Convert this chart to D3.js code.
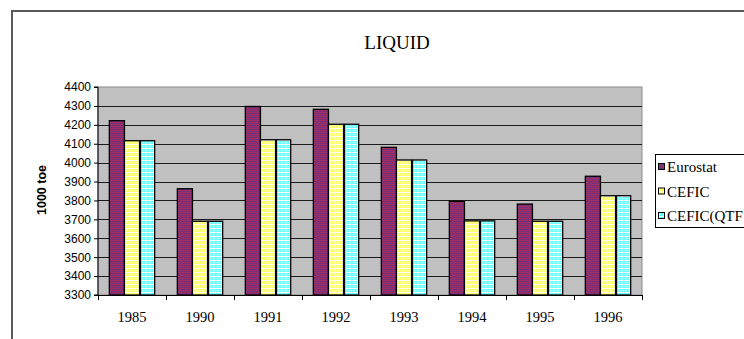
<!DOCTYPE html>
<html>
<head>
<meta charset="utf-8">
<script src="https://cdn.jsdelivr.net/npm/d3@7"></script>
<style>
  html, body { margin: 0; padding: 0; background: #fff; }
  svg { display: block; }
  .serif { font-family: "Liberation Serif", "DejaVu Serif", serif; }
  .sans { font-family: "Liberation Sans", "DejaVu Sans", sans-serif; }
</style>
</head>
<body>
<svg id="chart" width="744" height="339"></svg>
<script>
// Liquid fuel consumption, 1000 toe
const years = ["1985", "1990", "1991", "1992", "1993", "1994", "1995", "1996"];
const seriesNames = ["Eurostat", "CEFIC", "CEFIC(QTF"];
const eurostat = [4222, 3862, 4297, 4282, 4081, 3795, 3781, 3928];
const cefic    = [4116, 3690, 4121, 4203, 4014, 3692, 3690, 3825];
const ceficQtf = [4116, 3690, 4121, 4203, 4014, 3692, 3690, 3825];
const yTicks = [3300, 3400, 3500, 3600, 3700, 3800, 3900, 4000, 4100, 4200, 4300, 4400];

const seriesValues = [eurostat, cefic, ceficQtf];
const patternIds = ["pat-eurostat", "pat-cefic", "pat-qtf"];

const svg = d3.select("#chart");
const defs = svg.append("defs");

// Dithered fills for the three series
function makePattern(id, base, dots) {
  const p = defs.append("pattern")
    .attr("id", id).attr("patternUnits", "userSpaceOnUse")
    .attr("width", 4).attr("height", 4);
  p.append("rect").attr("width", 4).attr("height", 4).attr("fill", base);
  dots.forEach(([x, y, c]) => p.append("rect")
    .attr("x", x).attr("y", y).attr("width", 1).attr("height", 1).attr("fill", c));
}
makePattern("pat-eurostat", "#8e2a62", [
  [0, 0, "#e0203a"], [2, 2, "#e0203a"], [1, 3, "#5040a8"], [3, 1, "#5040a8"],
  [2, 0, "#b03070"], [0, 2, "#b03070"], [1, 1, "#6a2a6a"]
]);
makePattern("pat-cefic", "#ffff55", [
  [0, 0, "#ffffff"], [1, 0, "#ffffff"], [2, 0, "#ffffff"], [3, 0, "#ffffff"],
  [0, 1, "#ffffff"], [0, 2, "#ffffff"], [0, 3, "#ffffff"], [2, 2, "#ffffcc"]
]);
makePattern("pat-qtf", "#55ffff", [
  [0, 0, "#ffffff"], [1, 0, "#ffffff"], [2, 0, "#ffffff"], [3, 0, "#ffffff"],
  [0, 1, "#ffffff"], [0, 2, "#ffffff"], [0, 3, "#ffffff"], [2, 2, "#ccffff"]
]);

// Outer chart frame
svg.append("rect")
  .attr("x", 12).attr("y", 11).attr("width", 900).attr("height", 500)
  .attr("fill", "#fff").attr("stroke", "#5a5a5a").attr("stroke-width", 2);

const plot = { left: 98, right: 642, top: 87, bottom: 295 };

const x0 = d3.scaleBand().domain(years).range([plot.left, plot.right]).padding(0);
const y = d3.scaleLinear().domain([3300, 4400]).range([plot.bottom, plot.top]);

// Plot area background
svg.append("rect")
  .attr("x", plot.left).attr("y", plot.top)
  .attr("width", plot.right - plot.left).attr("height", plot.bottom - plot.top)
  .attr("fill", "#c0c0c0").attr("stroke", "#8a8a8a").attr("stroke-width", 1);

// Horizontal gridlines
svg.append("g").selectAll("line")
  .data(yTicks.filter(v => v > 3300 && v < 4400))
  .join("line")
  .attr("x1", plot.left).attr("x2", plot.right)
  .attr("y1", d => Math.round(y(d)) + 0.5).attr("y2", d => Math.round(y(d)) + 0.5)
  .attr("stroke", "#1a1a1a").attr("stroke-width", 1);

// Bars
const groupW = x0.bandwidth();
const barW = groupW / 4.5;
const x1 = d3.scaleBand().domain(d3.range(3)).range([0, barW * 3]);

const groups = svg.append("g").selectAll("g")
  .data(years)
  .join("g")
  .attr("transform", d => `translate(${x0(d) + (groupW - barW * 3) / 2},0)`);

groups.selectAll("rect")
  .data((d, i) => seriesValues.map((s, k) => ({ k, v: s[i] })))
  .join("rect")
  .attr("x", d => x1(d.k) + (d.k === 2 ? 1 : 0))
  .attr("y", d => y(d.v))
  .attr("width", d => barW - (d.k === 2 ? 1 : 0))
  .attr("height", d => y(3300) - y(d.v))
  .attr("fill", d => `url(#${patternIds[d.k]})`)
  .attr("stroke", "#000").attr("stroke-width", 1.3);

// Y axis
const yAxis = d3.axisLeft(y).tickValues(yTicks).tickSize(4).tickPadding(3).tickFormat(d3.format("d"));
const gy = svg.append("g").attr("transform", `translate(${plot.left},0)`).call(yAxis);
gy.attr("font-family", null).attr("font-size", null);
gy.select(".domain").attr("stroke", "#000").attr("d", `M-4,${plot.top}H0V${plot.bottom}H-4`);
gy.selectAll(".tick line").attr("stroke", "#000");
gy.selectAll("text").attr("class", "sans")
  .attr("font-size", 12).attr("fill", "#000");

// X axis
const xAxis = d3.axisBottom(x0).tickSize(0).tickPadding(0);
const gx = svg.append("g").attr("transform", `translate(0,${plot.bottom})`).call(xAxis);
gx.attr("font-family", null).attr("font-size", null);
gx.select(".domain").remove();
gx.selectAll("text").attr("class", "serif")
  .attr("font-size", 14.5).attr("fill", "#000").attr("y", 27).attr("dy", null);
svg.append("line").attr("x1", plot.left).attr("x2", plot.right)
  .attr("y1", plot.bottom + 0.5).attr("y2", plot.bottom + 0.5).attr("stroke", "#000");
// Category separator ticks
svg.append("g").selectAll("line")
  .data(d3.range(years.length + 1))
  .join("line")
  .attr("x1", i => Math.round(plot.left + i * groupW) + 0.5)
  .attr("x2", i => Math.round(plot.left + i * groupW) + 0.5)
  .attr("y1", plot.bottom).attr("y2", plot.bottom + 5)
  .attr("stroke", "#000");

// Title
svg.append("text")
  .attr("class", "serif")
  .attr("x", 397).attr("y", 49).attr("text-anchor", "middle")
  .attr("font-size", 19).attr("fill", "#000")
  .text("LIQUID");

// Y axis title
svg.append("text")
  .attr("class", "sans")
  .attr("transform", "translate(46,190) rotate(-90)")
  .attr("text-anchor", "middle")
  .attr("font-weight", "bold").attr("font-size", 12.5).attr("fill", "#000")
  .text("1000 toe");

// Legend
const legend = svg.append("g").attr("transform", "translate(655,154)");
legend.append("rect")
  .attr("x", 0.5).attr("y", 0.5).attr("width", 200).attr("height", 73)
  .attr("fill", "#fff").attr("stroke", "#000").attr("stroke-width", 1);
const items = legend.selectAll("g.item")
  .data(seriesNames)
  .join("g").attr("class", "item")
  .attr("transform", (d, i) => `translate(0,${13 + i * 24.5})`);
items.append("rect")
  .attr("x", 3.5).attr("y", -3.5).attr("width", 6).attr("height", 6)
  .attr("fill", (d, i) => `url(#${patternIds[i]})`)
  .attr("stroke", "#000").attr("stroke-width", 1);
items.append("text")
  .attr("class", "serif")
  .attr("x", 12).attr("y", 0).attr("dy", "0.35em")
  .attr("font-size", 15).attr("fill", "#000")
  .text(d => d);
</script>
</body>
</html>
